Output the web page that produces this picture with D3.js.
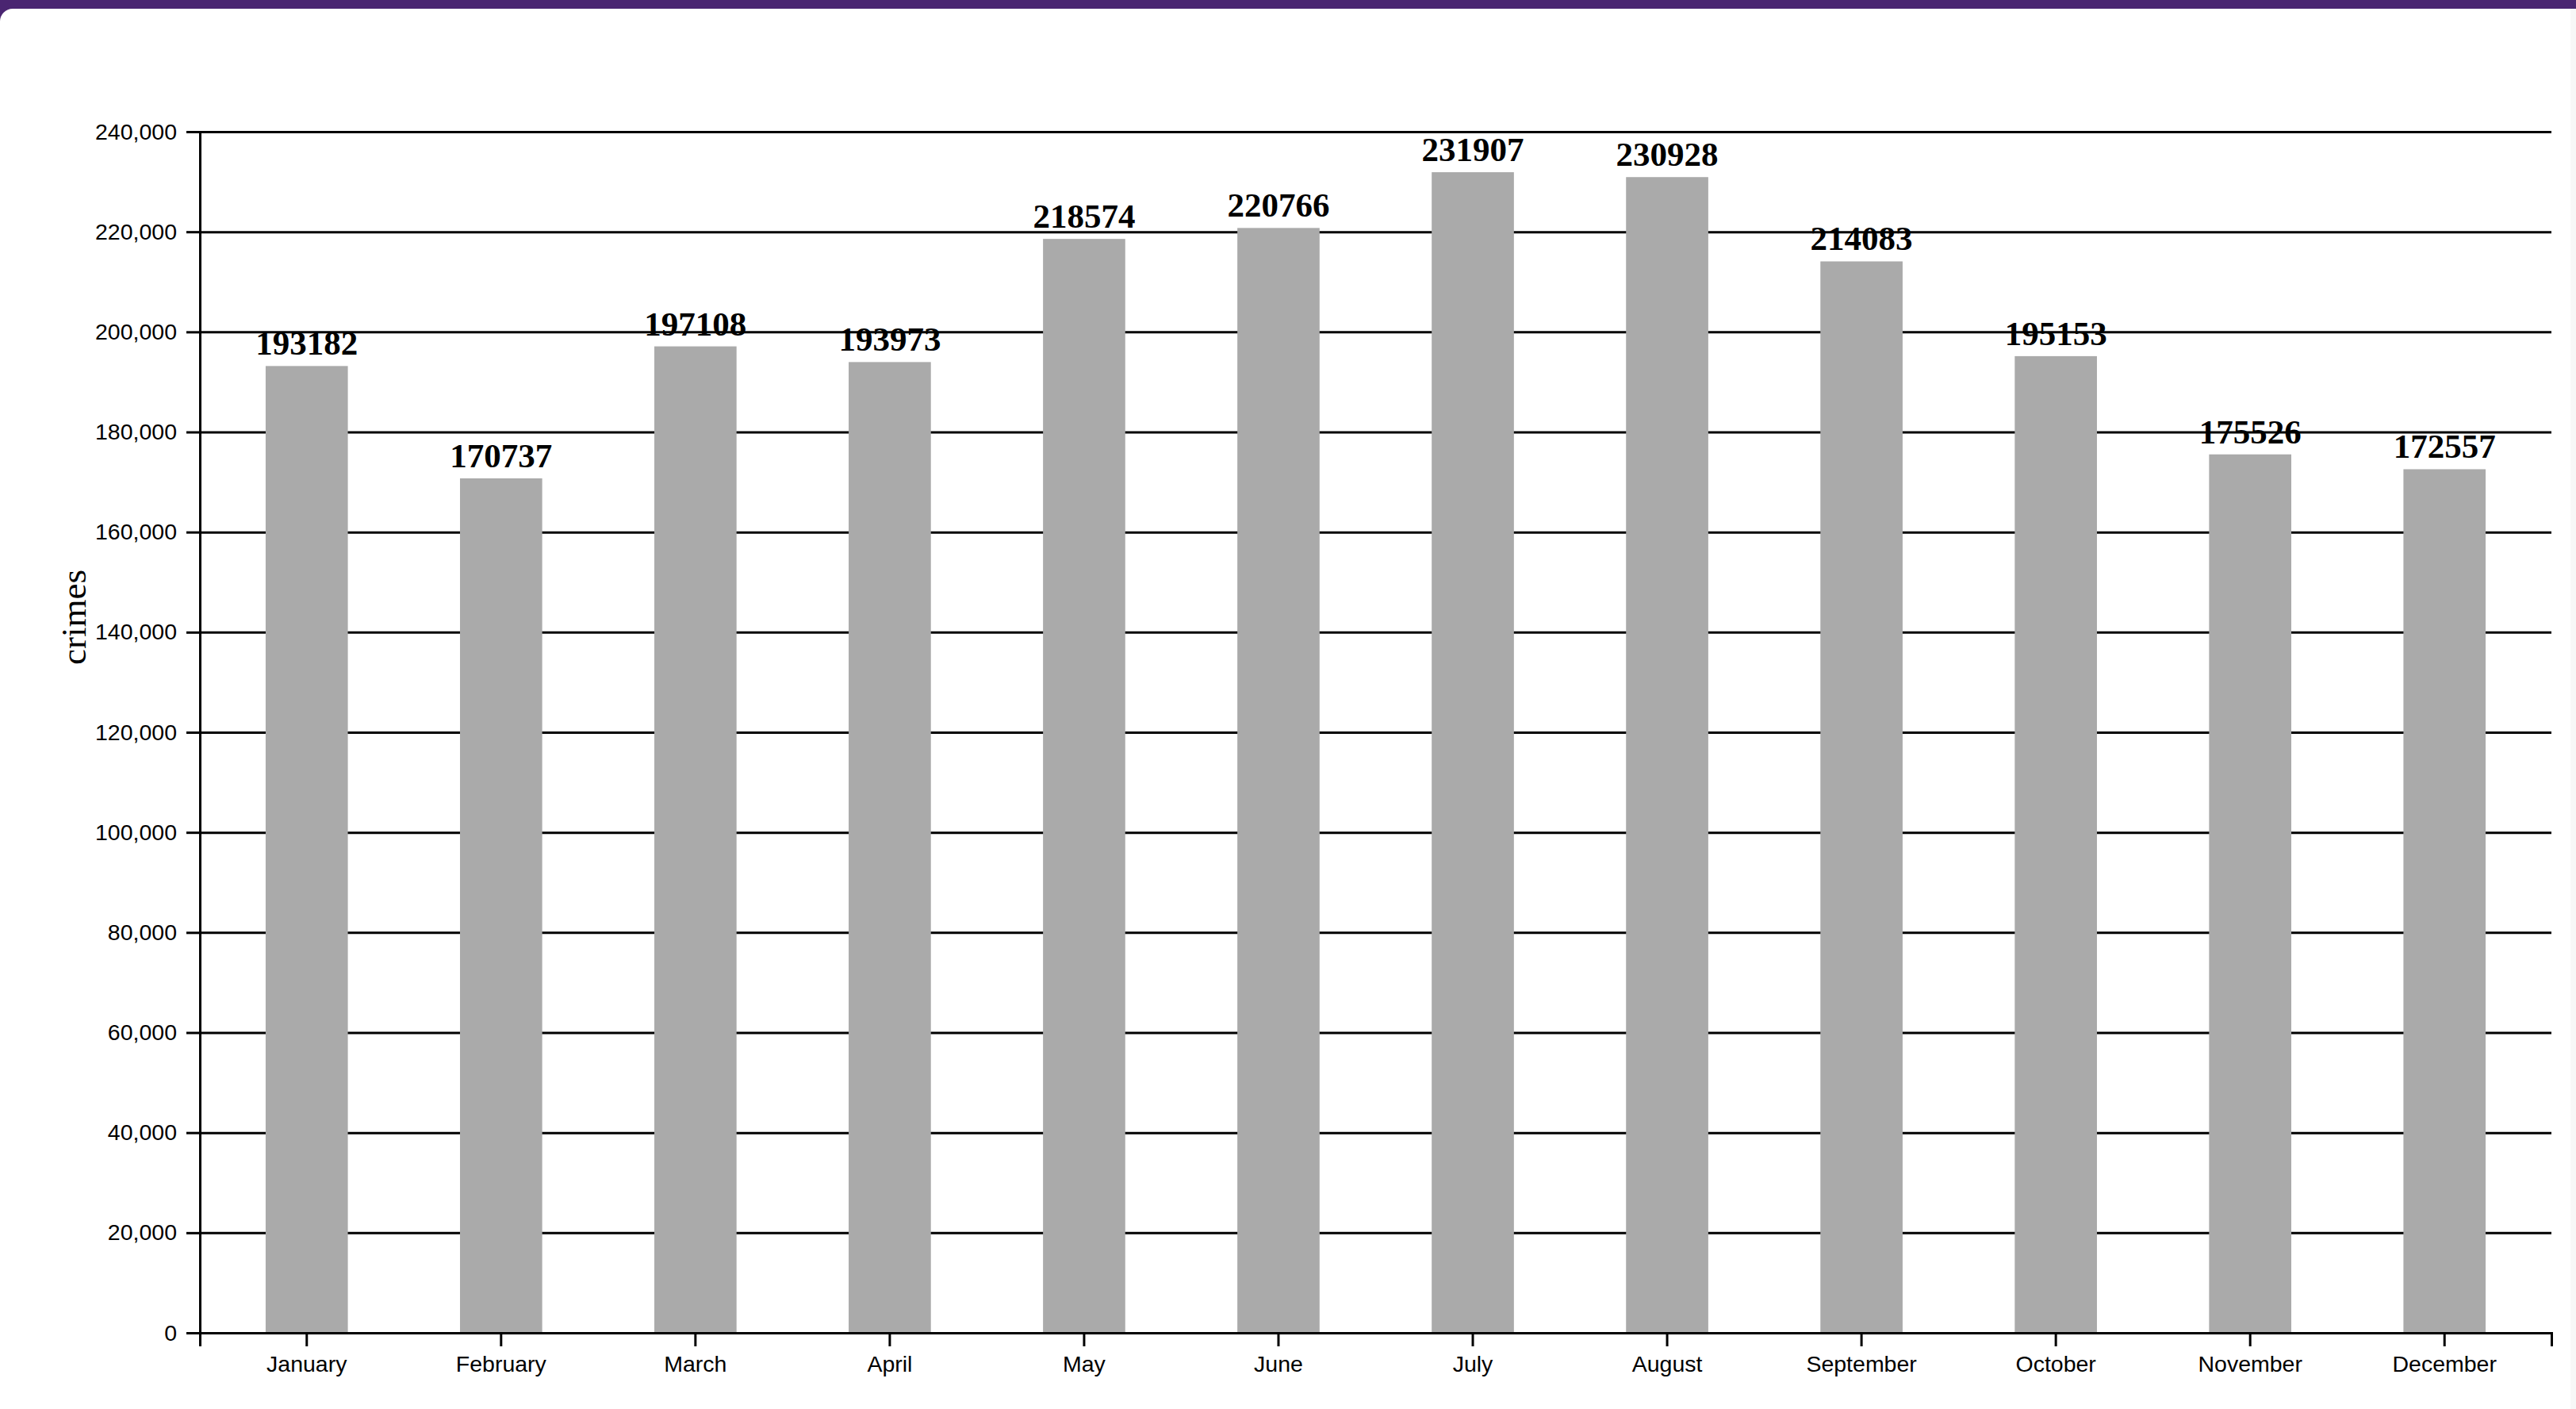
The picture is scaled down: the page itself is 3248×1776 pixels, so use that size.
<!DOCTYPE html>
<html>
<head>
<meta charset="utf-8">
<script src="https://d3js.org/d3.v7.min.js"></script>
<style>
  html, body { margin: 0; padding: 0; background: #4a2571; width: 3248px; height: 1776px; overflow: hidden; }
  #card { position: absolute; left: 0; top: 11px; width: 3241px; height: 1765px; background: #fff; border-top-left-radius: 16px; }
  #strip { position: absolute; left: 3241px; top: 11px; width: 7px; height: 1765px; background: #f7f7f7; }
  svg#barSVG { position: absolute; left: 0; top: 0; }
</style>
</head>
<body>
<div id="card"></div>
<div id="strip"></div>
<svg id="barSVG" width="3248" height="1776"></svg>
<script>
var months = ["January", "February", "March", "April", "May", "June",
              "July", "August", "September", "October", "November", "December"];
var crimes = [193182, 170737, 197108, 193973, 218574, 220766,
              231907, 230928, 214083, 195153, 175526, 172557];
var yMax = 240000;
var yTicks = [0, 20000, 40000, 60000, 80000, 100000, 120000, 140000, 160000, 180000, 200000, 220000, 240000];

var data = months.map(function(m, i) { return {id: m, value: crimes[i]}; });

var svg = d3.select("svg#barSVG"),
    margin = {top: 166, right: 31, bottom: 96, left: 252},
    width = +svg.attr("width") - margin.left - margin.right,
    height = +svg.attr("height") - margin.top - margin.bottom;

var x = d3.scaleBand().range([0, width]).padding(0.1),
    y = d3.scaleLinear().range([height, 0]);

x.domain(months);
y.domain([0, yMax]);

var g = svg.append("g")
    .attr("transform", "translate(" + margin.left + "," + margin.top + ")");

// gridlines behind the bars
var grid = g.append("g")
    .attr("class", "grid")
    .call(d3.axisLeft(y).tickValues(yTicks).tickSize(-width).tickFormat(""));
grid.select(".domain").remove();
grid.selectAll("line").attr("stroke", "#000").attr("stroke-width", 3);

var barW = x.bandwidth() * 0.47;

g.selectAll(".bar").data(data)
  .enter().append("rect")
    .attr("class", "bar")
    .attr("fill", "#aaaaaa")
    .attr("x", function(d) { return x(d.id) + (x.bandwidth() - barW) / 2; })
    .attr("width", barW)
    .attr("y", function(d) { return y(d.value); })
    .attr("height", function(d) { return height - y(d.value); });

g.selectAll(".label").data(data)
  .enter().append("text")
    .attr("class", "label")
    .attr("x", function(d) { return x(d.id) + x.bandwidth() / 2; })
    .attr("y", function(d) { return y(d.value) - 14; })
    .attr("text-anchor", "middle")
    .style("font-family", "'Liberation Serif', 'Times New Roman', serif")
    .style("font-weight", "bold")
    .style("font-size", "43px")
    .attr("fill", "#000")
    .text(function(d) { return d.value; });

var xAxis = g.append("g")
    .attr("class", "axis axis--x")
    .attr("transform", "translate(0," + height + ")")
    .call(d3.axisBottom(x).tickSize(17).tickPadding(12));

var yAxis = g.append("g")
    .attr("class", "axis axis--y")
    .call(d3.axisLeft(y).tickValues(yTicks).tickFormat(d3.format(",")).tickSize(17).tickPadding(12));

[xAxis, yAxis].forEach(function(a) {
  a.attr("font-family", "'Liberation Sans', Arial, sans-serif").attr("font-size", 28.5);
  a.selectAll("line").attr("stroke-width", 3);
  a.select(".domain").attr("stroke-width", 3);
  a.selectAll("text").attr("fill", "#000");
});

svg.append("text")
    .attr("transform", "translate(108,778) rotate(-90)")
    .attr("text-anchor", "middle")
    .style("font-family", "'Liberation Serif', 'Times New Roman', serif")
    .style("font-size", "45px")
    .attr("fill", "#000")
    .text("crimes");
</script>
</body>
</html>
